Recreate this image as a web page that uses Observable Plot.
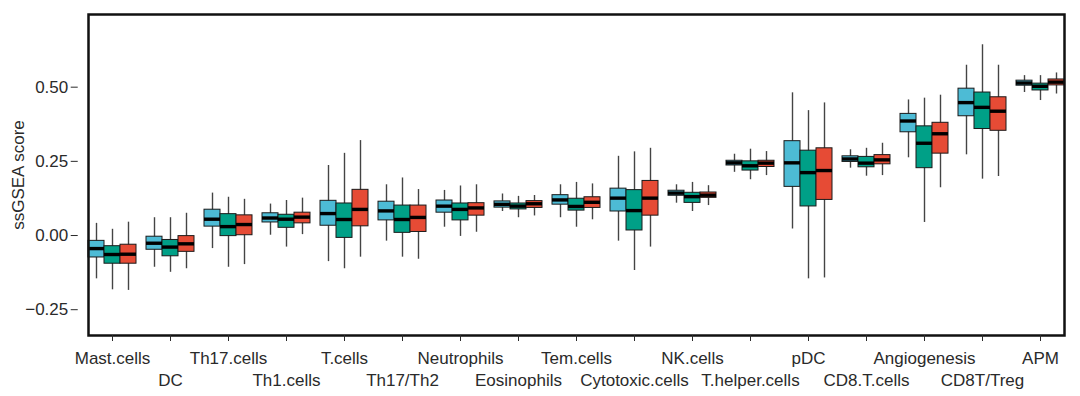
<!DOCTYPE html>
<html>
<head>
<meta charset="utf-8">
<script src="https://cdn.jsdelivr.net/npm/d3@7"></script>
<script src="https://cdn.jsdelivr.net/npm/@observablehq/plot@0.6"></script>
<style>
  html, body { margin: 0; padding: 0; background: #fff; }
  #chart { width: 1080px; height: 396px; }
</style>
</head>
<body>
<div id="chart"></div>
<script>
const categories = ["Mast.cells","DC","Th17.cells","Th1.cells","T.cells","Th17/Th2","Neutrophils","Eosinophils","Tem.cells","Cytotoxic.cells","NK.cells","T.helper.cells","pDC","CD8.T.cells","Angiogenesis","CD8T/Treg","APM"];
const groups = ["Cluster 1","Cluster 2","Cluster 3"];
const groupColors = ["#4DBBD5","#00A087","#E64B35"];
const yTicks = [-0.25, 0, 0.25, 0.5];
const yLabel = "ssGSEA score";

// [lower whisker, Q1, median, Q3, upper whisker] per category
const cluster1 = [
  [-0.146,-0.074,-0.044,-0.018,0.041],
  [-0.107,-0.048,-0.026,-0.004,0.060],
  [-0.044,0.030,0.055,0.087,0.143],
  [0.001,0.044,0.059,0.075,0.106],
  [-0.088,0.033,0.074,0.117,0.236],
  [-0.019,0.051,0.083,0.114,0.171],
  [0.028,0.077,0.099,0.118,0.152],
  [0.081,0.094,0.105,0.115,0.140],
  [0.060,0.104,0.120,0.136,0.171],
  [-0.019,0.081,0.126,0.158,0.267],
  [0.109,0.134,0.143,0.151,0.171],
  [0.213,0.236,0.245,0.252,0.274],
  [0.022,0.164,0.245,0.318,0.481],
  [0.227,0.248,0.258,0.267,0.289],
  [0.262,0.348,0.386,0.410,0.457],
  [0.272,0.402,0.448,0.495,0.574],
  [0.482,0.505,0.514,0.522,0.539]
];
const cluster2 = [
  [-0.183,-0.095,-0.064,-0.036,0.021],
  [-0.124,-0.070,-0.039,-0.015,0.060],
  [-0.107,-0.002,0.030,0.072,0.129],
  [-0.039,0.026,0.055,0.070,0.118],
  [-0.112,-0.008,0.054,0.108,0.277],
  [-0.073,0.009,0.054,0.101,0.194],
  [-0.003,0.051,0.088,0.108,0.167],
  [0.060,0.088,0.099,0.108,0.132],
  [0.028,0.084,0.098,0.124,0.179],
  [-0.118,0.017,0.084,0.153,0.282],
  [0.081,0.110,0.131,0.144,0.179],
  [0.188,0.219,0.235,0.250,0.291],
  [-0.146,0.098,0.212,0.286,0.421],
  [0.200,0.230,0.244,0.265,0.294],
  [0.044,0.227,0.311,0.368,0.463],
  [0.190,0.359,0.432,0.482,0.643],
  [0.455,0.489,0.503,0.512,0.539]
];
const cluster3 = [
  [-0.185,-0.095,-0.063,-0.031,0.045],
  [-0.112,-0.055,-0.028,-0.002,0.075],
  [-0.098,0.001,0.037,0.068,0.122],
  [0.003,0.041,0.062,0.077,0.126],
  [-0.073,0.031,0.088,0.154,0.320],
  [-0.080,0.012,0.061,0.101,0.155],
  [0.011,0.067,0.093,0.109,0.171],
  [0.066,0.093,0.107,0.116,0.135],
  [0.053,0.093,0.112,0.129,0.174],
  [-0.039,0.067,0.126,0.184,0.294],
  [0.101,0.127,0.136,0.145,0.168],
  [0.202,0.231,0.244,0.252,0.283],
  [-0.143,0.120,0.219,0.294,0.447],
  [0.202,0.240,0.255,0.271,0.311],
  [0.161,0.276,0.343,0.380,0.473],
  [0.199,0.353,0.419,0.466,0.574],
  [0.477,0.506,0.517,0.526,0.548]
];

const series = [cluster1, cluster2, cluster3];
const rows = [];
series.forEach((s, g) => s.forEach((v, i) => rows.push({
  cat: categories[i], group: groups[g],
  lo: v[0], q1: v[1], med: v[2], q3: v[3], hi: v[4]
})));

const idx = d => categories.indexOf(d);

const W = 1080, H = 396, mL = 85, mR = 14, mT = 14, mB = 61;
const FS = 17;
const fxPadding = 0.18;
// distance from the frame's left edge to the first facet (outer band padding)
const fxStep = (W - mL - mR) / (categories.length + fxPadding);
const firstFacetOffset = fxPadding * fxStep;

const chart = Plot.plot({
  width: W,
  height: H,
  marginLeft: mL,
  marginRight: mR,
  marginTop: mT,
  marginBottom: mB,
  style: { fontFamily: "'Liberation Sans', Arial, Helvetica, sans-serif", fontSize: FS + "px", color: "#2a2a2a", background: "#fff" },
  fx: { domain: categories, padding: fxPadding, label: null },
  x: { domain: groups, padding: 0, axis: null },
  y: { domain: [-0.337, 0.745], label: null },
  color: { domain: groups, range: groupColors },
  marks: [
    Plot.ruleX(rows, { fx: "cat", x: "group", y1: "lo", y2: "hi", stroke: "#444", strokeWidth: 1.4 }),
    Plot.barY(rows, { fx: "cat", x: "group", y1: "q1", y2: "q3", fill: "group", stroke: "#1a1a1a", strokeWidth: 1 }),
    Plot.tickY(rows, { fx: "cat", x: "group", y: "med", stroke: "#000", strokeWidth: 3.4 }),
    Plot.frame({ facet: "super", stroke: "#111", strokeWidth: 2.5 }),
    Plot.axisY({ ticks: yTicks, tickFormat: d3.format(".2f"), tickSize: 7, tickPadding: 3,
      label: null, dx: -firstFacetOffset, fontSize: FS }),
    Plot.text([yLabel], { facet: "super", frameAnchor: "left", text: d => d, rotate: -90, dx: -70,
      textAnchor: "middle", lineAnchor: "middle", fontSize: FS, fill: "#2a2a2a" }),
    Plot.axisFx({ anchor: "bottom", tickSize: 6, tickPadding: 10, tickFormat: d => idx(d) % 2 ? "" : d, label: null, fontSize: FS }),
    Plot.axisFx({ anchor: "bottom", tickSize: 0, tickPadding: 38, tickFormat: d => idx(d) % 2 ? d : "", label: null, fontSize: FS })
  ]
});
document.getElementById("chart").appendChild(chart);
</script>
</body>
</html>
